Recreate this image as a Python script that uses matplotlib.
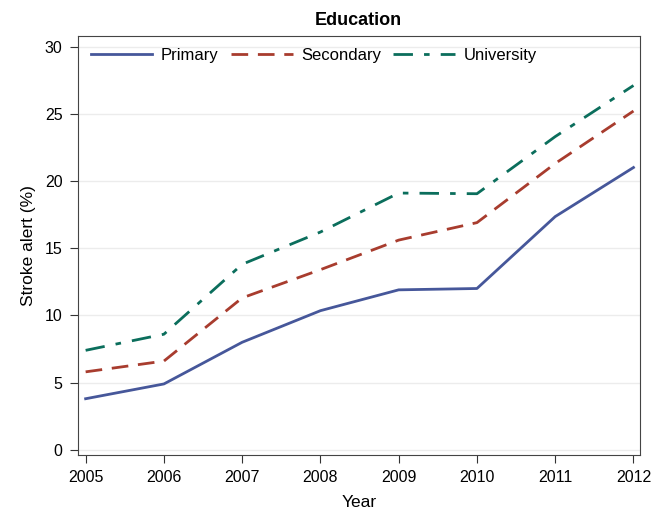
import matplotlib
matplotlib.use("Agg")
import matplotlib.pyplot as plt

years = [2005, 2006, 2007, 2008, 2009, 2010, 2011, 2012]
primary = [3.8, 4.9, 8.0, 10.35, 11.9, 12.0, 17.35, 21.0]
secondary = [5.8, 6.6, 11.3, 13.4, 15.6, 16.9, 21.3, 25.2]
university = [7.4, 8.6, 13.8, 16.2, 19.1, 19.05, 23.3, 27.1]

plt.rcParams["font.family"] = ["Liberation Sans", "DejaVu Sans"]

fig = plt.figure(figsize=(6.65, 5.11), dpi=100)
ax = fig.add_axes([0.117, 0.110, 0.845, 0.820])

ax.plot(years, primary, "-", color="#46579a", lw=2.0, label="Primary")
ax.plot(years, secondary, color="#a83c2e", lw=2.0, dashes=(6, 3.5), label="Secondary")
ax.plot(years, university, color="#0b6e5c", lw=2.0, dashes=(7, 4, 2, 4), label="University")

ax.set_xlim(2004.9, 2012.08)
ax.set_ylim(-0.37, 30.8)
ax.set_xticks(years)
ax.set_yticks(range(0, 31, 5))
ax.tick_params(labelsize=11.5, length=6, pad=5, color="#333333")
ax.grid(axis="y", color="#ececec", lw=1)
ax.set_axisbelow(True)
for s in ax.spines.values():
    s.set_color("#444444")

ax.set_xlabel("Year", fontsize=12.5, labelpad=7)
ax.set_ylabel("Stroke alert (%)", fontsize=12.5, labelpad=6)
ax.set_title("Education", fontsize=13, fontweight="bold", pad=8)
ax.legend(loc="upper left", bbox_to_anchor=(0.005, 0.995), ncol=3, frameon=False,
          fontsize=12, handlelength=3.7, handletextpad=0.5, borderaxespad=0.2,
          columnspacing=0.75)

fig.savefig("out.png", dpi=100)
